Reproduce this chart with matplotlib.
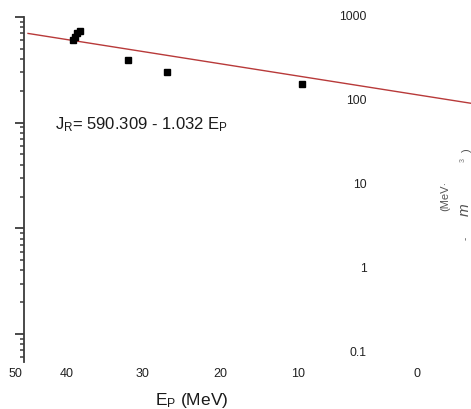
import matplotlib
matplotlib.use("Agg")
import matplotlib.pyplot as plt

plt.rcParams['font.family'] = ['Liberation Sans', 'DejaVu Sans']
plt.rcParams['mathtext.default'] = 'regular'

# measured points (E_P in MeV, J_R)
ep = [39.26, 38.96, 38.66, 38.31, 32.12, 26.97, 9.52]
jr = [605, 652, 701, 741, 392, 304, 232]

# fitted line endpoints
fit_ep = [45.06, -12.6]
fit_jr = [699, 152]

xtick_labels = ['50', '40', '30', '20', '10', '0']
ytick_vals = [0.1, 1, 10, 100, 1000]
ytick_labels = ['0.1', '1', '10', '100', '1000']

W, H = 471, 409
fig = plt.figure(figsize=(W / 100, H / 100), dpi=100)

# main axes (pixel layout: top 17, bottom 362)
ax = fig.add_axes([0, 1 - 362 / H, 1, 345 / H])
ax.set_yscale('log')
ax.set_xlim(375 / 7.7, (375 - W) / 7.7)
ax.set_ylim(0.543, 1000)

ax.plot(fit_ep, fit_jr, color='#b83a3a', lw=1.0, zorder=2)
ax.plot(ep, jr, 's', color='black', ms=5, zorder=3)

for s in ['top', 'right', 'bottom']:
    ax.spines[s].set_visible(False)
ax.spines['left'].set_position(('axes', 24 / W))
ax.spines['left'].set_color('#3c3c3c')
ax.spines['left'].set_linewidth(1.3)
ax.tick_params(axis='y', which='major', length=6.5, width=1.3, color='#3c3c3c', labelleft=False)
ax.tick_params(axis='y', which='minor', length=3, width=1.1, color='#3c3c3c', labelleft=False)

# x tick labels (odd spacing as in the figure)
xtick_px = [15, 67, 143, 220, 298, 417]
ax.set_xticks([(375 - p) / 7.7 for p in xtick_px])
ax.set_xticklabels(xtick_labels, fontsize=9, color='#222222')
ax.tick_params(axis='x', length=0, pad=4)

# detached tick labels on the right
ax2 = fig.add_axes([371 / W, 1 - 352 / H, 0.01, 337 / H])
ax2.set_yscale('log')
ax2.set_ylim(0.1, 1000)
ax2.set_yticks(ytick_vals)
ax2.set_yticklabels(ytick_labels, fontsize=8.7, color='#222222')
ax2.yaxis.set_minor_locator(matplotlib.ticker.NullLocator())
ax2.tick_params(axis='y', length=0, pad=3)
ax2.set_xticks([])
ax2.patch.set_visible(False)
for s in ax2.spines.values():
    s.set_visible(False)

# equation and labels
fig.text(55 / W, 1 - 125 / H, 'J$_{R}$= 590.309 - 1.032 E$_{P}$',
         fontsize=12, color='#1a1a1a', ha='left', va='center')
fig.text(192 / W, 1 - 400 / H, 'E$_{P}$ (MeV)', fontsize=12.5,
         color='#1a1a1a', ha='center', va='center')

# clipped right-hand y label fragments
fig.text(445 / W, 1 - 196 / H, '(MeV·', fontsize=8, rotation=90,
         color='#555555', ha='center', va='center')
fig.text(465 / W, 1 - 210 / H, 'm', fontsize=11, rotation=90, style='italic',
         color='#555555', ha='center', va='center')
fig.text(463 / W, 1 - 160 / H, '3', fontsize=5, rotation=90,
         color='#777777', ha='center', va='center')
fig.text(467 / W, 1 - 150 / H, ')', fontsize=8, rotation=90,
         color='#555555', ha='center', va='center')
fig.text(466 / W, 1 - 238 / H, '-', fontsize=7, rotation=90,
         color='#555555', ha='center', va='center')

fig.savefig('out.png', dpi=100)
